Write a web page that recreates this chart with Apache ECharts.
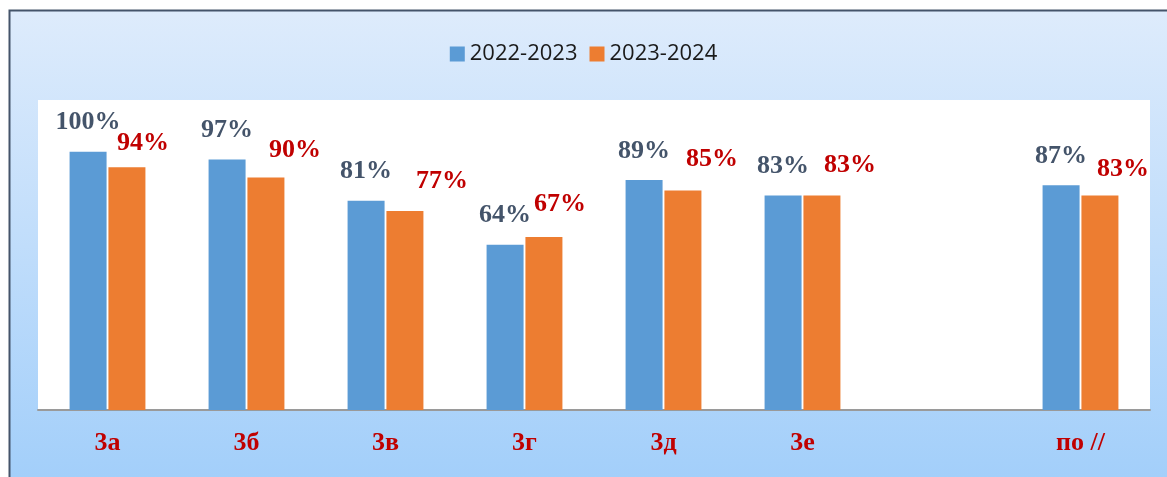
<!DOCTYPE html>
<html>
<head>
<meta charset="utf-8">
<script src="https://cdn.jsdelivr.net/npm/echarts@6/dist/echarts.min.js"></script>
<style>
  html, body { margin: 0; padding: 0; background: #fff; }
  #chart { width: 1167px; height: 477px; }
</style>
</head>
<body>
<div id="chart"></div>
<script>
// классы и значения (в процентах)
const categories = ["3а", "3б", "3в", "3г", "3д", "3е", "", "по //"];
const seriesNames = ["2022-2023", "2023-2024"];
const values2022 = [100, 97, 81, 64, 89, 83, "-", 87];
const values2023 = [94, 90, 77, 67, 85, 83, "-", 83];

// сдвиг подписей второй серии (они стоят вручную правее столбцов)
const orangeLabelShift = [[16, 5], [29, 2], [37, -1], [16, -4], [29, -2], [28, -1], [0, 0], [23, 3]];

const labelFont = "'Liberation Serif', 'Times New Roman', serif";

const chart = echarts.init(document.getElementById("chart"));

const option = {
  backgroundColor: "#ffffff",
  animation: false,
  graphic: [
    {
      type: "rect",
      z: -10,
      silent: true,
      shape: { x: 10, y: 11, width: 1157, height: 466 },
      style: {
        fill: new echarts.graphic.LinearGradient(0, 0, 0, 477, [
          { offset: 0, color: "#dfecfc" },
          { offset: 1, color: "#a3cffa" }
        ], true)
      }
    },
    {
      // рамка только сверху и слева
      type: "polyline",
      z: -9,
      silent: true,
      shape: { points: [[9.5, 477], [9.5, 10.5], [1167, 10.5]] },
      style: { stroke: "#44546a", lineWidth: 2, fill: null }
    }
  ],
  legend: {
    top: 38,
    left: "center",
    itemWidth: 15,
    itemHeight: 15,
    itemGap: 12,
    icon: "rect",
    data: seriesNames,
    textStyle: {
      fontFamily: "'Open Sans', sans-serif",
      fontSize: 22,
      color: "#1a1a1a"
    }
  },
  grid: {
    left: 38,
    right: 17,
    top: 100,
    bottom: 67,
    show: true,
    backgroundColor: "#ffffff",
    borderWidth: 0
  },
  xAxis: {
    type: "category",
    data: categories,
    axisTick: { show: false },
    axisLine: { lineStyle: { color: "#9a9a9a", width: 2 } },
    axisLabel: {
      margin: 20,
      fontFamily: labelFont,
      fontWeight: "bold",
      fontSize: 26,
      color: "#c00000"
    }
  },
  yAxis: {
    type: "value",
    min: 0,
    max: 120,
    show: false,
    splitLine: { show: false }
  },
  series: [
    {
      name: seriesNames[0],
      type: "bar",
      data: values2022,
      barWidth: 37,
      barGap: "5%",
      itemStyle: { color: "#5b9bd5" },
      label: {
        show: true,
        position: "top",
        distance: 16,
        formatter: "{c}%",
        fontFamily: labelFont,
        fontWeight: "bold",
        fontSize: 26,
        color: "#44546a"
      }
    },
    {
      name: seriesNames[1],
      type: "bar",
      data: values2023.map((v, i) => ({
        value: v,
        label: { offset: orangeLabelShift[i] }
      })),
      barWidth: 37,
      itemStyle: { color: "#ed7d31" },
      label: {
        show: true,
        position: "top",
        distance: 16,
        formatter: "{c}%",
        fontFamily: labelFont,
        fontWeight: "bold",
        fontSize: 26,
        color: "#c00000"
      }
    }
  ]
};

chart.setOption(option);
</script>
</body>
</html>
